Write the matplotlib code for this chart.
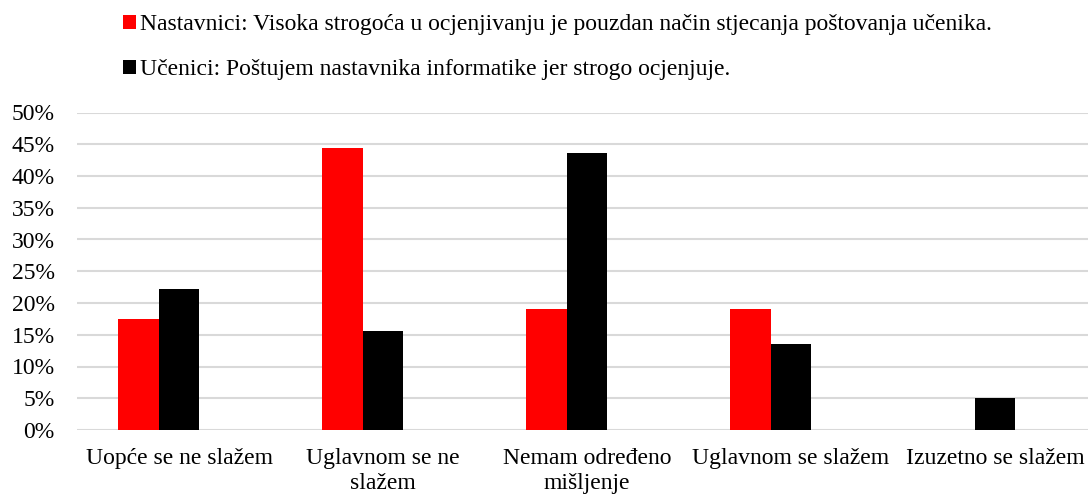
import matplotlib.pyplot as plt
import numpy as np
from matplotlib.ticker import PercentFormatter

plt.rcParams["font.family"] = "serif"
plt.rcParams["font.serif"] = ["Liberation Serif", "DejaVu Serif"]

categories = [
    "Uopće se ne slažem",
    "Uglavnom se ne\nslažem",
    "Nemam određeno\nmišljenje",
    "Uglavnom se slažem",
    "Izuzetno se slažem",
]
nastavnici = [17.5, 44.4, 19.0, 19.0, 0.0]
ucenici = [22.2, 15.6, 43.7, 13.6, 5.0]
labels = [
    "Nastavnici: Visoka strogoća u ocjenjivanju je pouzdan način stjecanja poštovanja učenika.",
    "Učenici: Poštujem nastavnika informatike jer strogo ocjenjuje.",
]

fig = plt.figure(figsize=(10.88, 4.97), dpi=100)
ax = fig.add_axes([77 / 1088, 1 - 430 / 497, 1020 / 1088, (430 - 112.5) / 497])

x = np.arange(len(categories))
w = 0.2
# third (empty) series in the original leaves room on the right of each group
ax.bar(x - w, nastavnici, w, color="#ff0000", label=labels[0], zorder=3)
ax.bar(x, ucenici, w, color="#000000", label=labels[1], zorder=3)

ax.set_xlim(-0.5, 4.5)
ax.set_ylim(0, 50)
ax.set_yticks(np.arange(0, 51, 5))
ax.yaxis.set_major_formatter(PercentFormatter(decimals=0))
ax.set_xticks(x)
ax.set_xticklabels(categories, linespacing=1.25)
ax.grid(axis="y", color="#d9d9d9", linewidth=1.5, zorder=0)
for s in ax.spines.values():
    s.set_visible(False)
ax.tick_params(axis="y", length=0, pad=16, labelsize=17)
ax.tick_params(axis="x", length=0, pad=13, labelsize=17)

fig.legend(
    loc="upper left",
    bbox_to_anchor=(114 / 1088, 1 - 5 / 497),
    frameon=False,
    fontsize=17,
    handlelength=0.55,
    handleheight=0.55,
    handletextpad=0.15,
    labelspacing=1.0,
    borderaxespad=0,
)

fig.savefig("out.png", dpi=100)
